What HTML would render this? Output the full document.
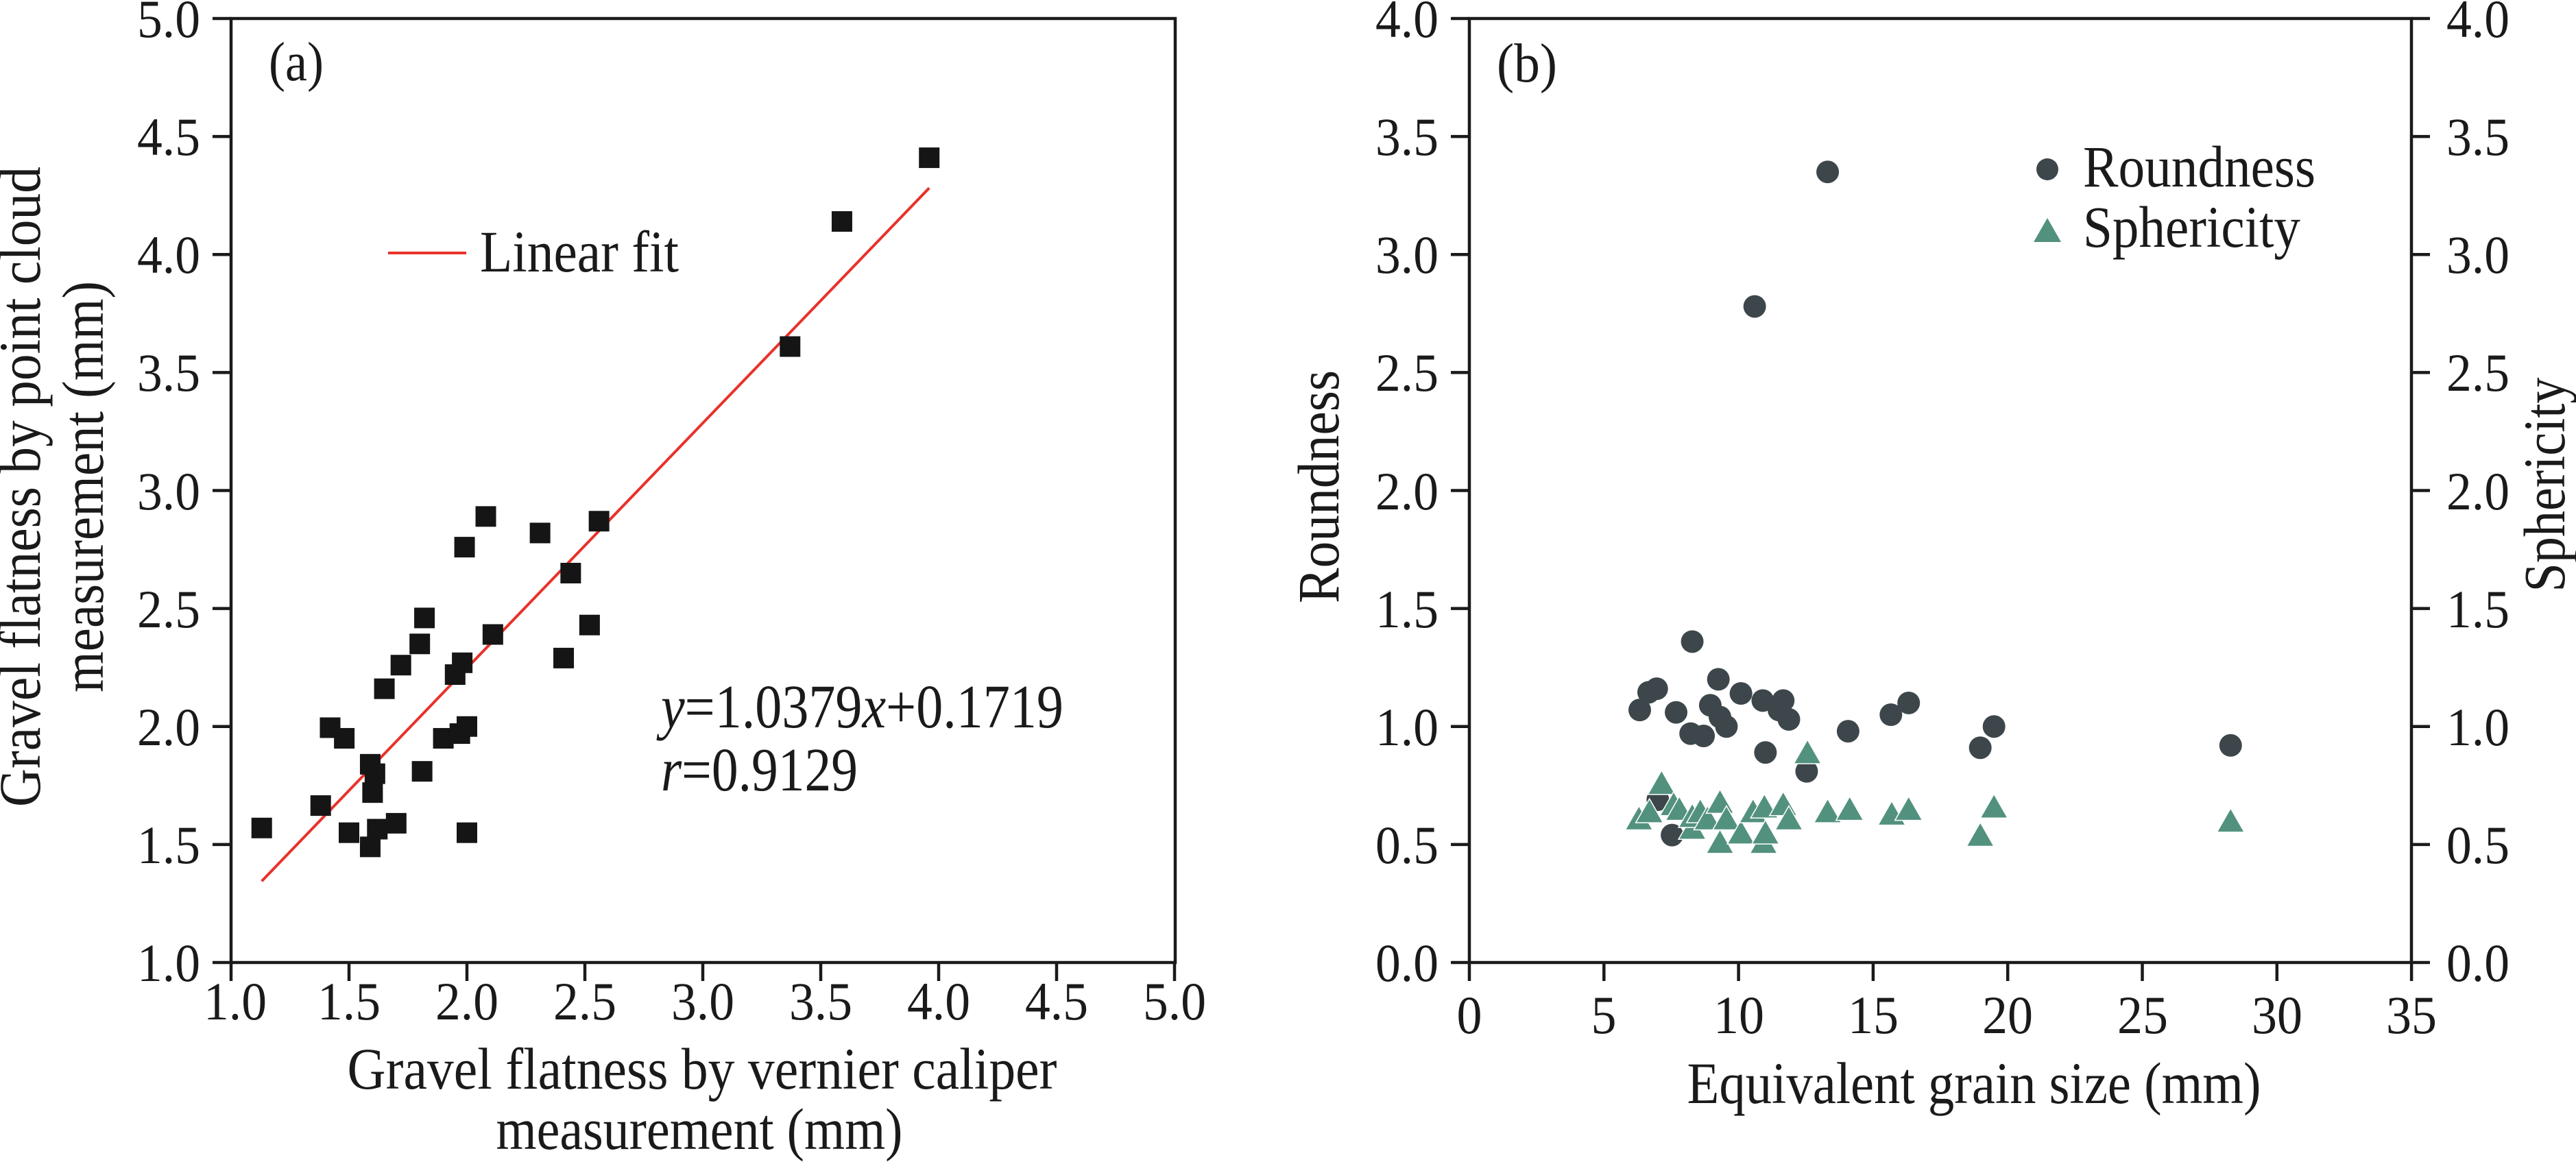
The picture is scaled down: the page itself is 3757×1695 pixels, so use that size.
<!DOCTYPE html>
<html><head><meta charset="utf-8"><style>
html,body{margin:0;padding:0;background:#fff}
svg{display:block}
text{font-family:"Liberation Serif","Times New Roman","Nimbus Roman","Nimbus Roman No9 L",Times,serif;fill:#1a1a1a}
</style></head><body>
<svg id="s" xmlns="http://www.w3.org/2000/svg" width="3757" height="1695" viewBox="0 0 3757 1695" font-family="Liberation Serif, Times New Roman, serif">
<g stroke="#1a1a1a" stroke-width="4.5" fill="none">
<rect x="337" y="27" width="1377" height="1377"/>
<rect x="2143" y="27" width="1374" height="1377"/>
</g>
<g id="ticks" stroke="#1a1a1a" stroke-width="4.5"></g>
<g font-size="78" id="tl">
<g text-anchor="end">
<text x="292" y="1431">1.0</text><text x="292" y="1259">1.5</text><text x="292" y="1087">2.0</text><text x="292" y="915">2.5</text><text x="292" y="743">3.0</text><text x="292" y="570">3.5</text><text x="292" y="398">4.0</text><text x="292" y="226">4.5</text><text x="292" y="54">5.0</text>
<text x="2098" y="1431">0.0</text><text x="2098" y="1259">0.5</text><text x="2098" y="1087">1.0</text><text x="2098" y="915">1.5</text><text x="2098" y="743">2.0</text><text x="2098" y="570">2.5</text><text x="2098" y="398">3.0</text><text x="2098" y="226">3.5</text><text x="2098" y="54">4.0</text>
</g>
<g text-anchor="start">
<text x="3568" y="1431">0.0</text><text x="3568" y="1259">0.5</text><text x="3568" y="1087">1.0</text><text x="3568" y="915">1.5</text><text x="3568" y="743">2.0</text><text x="3568" y="570">2.5</text><text x="3568" y="398">3.0</text><text x="3568" y="226">3.5</text><text x="3568" y="54">4.0</text>
</g>
<g text-anchor="middle">
<text x="343" y="1487">1.0</text><text x="509" y="1487">1.5</text><text x="681" y="1487">2.0</text><text x="853" y="1487">2.5</text><text x="1025" y="1487">3.0</text><text x="1197" y="1487">3.5</text><text x="1369" y="1487">4.0</text><text x="1541" y="1487">4.5</text><text x="1713" y="1487">5.0</text>
<text x="2143" y="1507">0</text><text x="2339" y="1507">5</text><text x="2536" y="1507">10</text><text x="2732" y="1507">15</text><text x="2928" y="1507">20</text><text x="3125" y="1507">25</text><text x="3321" y="1507">30</text><text x="3517" y="1507">35</text>
</g>
</g>
<text x="392" y="117" font-size="80" textLength="80" lengthAdjust="spacingAndGlyphs">(a)</text>
<text x="2183" y="119" font-size="80" textLength="88" lengthAdjust="spacingAndGlyphs">(b)</text>
<g font-size="86" text-anchor="middle" lengthAdjust="spacingAndGlyphs">
<text x="1024" y="1588" textLength="1035" lengthAdjust="spacingAndGlyphs">Gravel flatness by vernier caliper</text>
<text x="1020" y="1676" textLength="593" lengthAdjust="spacingAndGlyphs">measurement (mm)</text>
<text transform="translate(58,710) rotate(-90)" textLength="934" lengthAdjust="spacingAndGlyphs">Gravel flatness by point cloud</text>
<text transform="translate(150,710) rotate(-90)" textLength="600" lengthAdjust="spacingAndGlyphs">measurement (mm)</text>
<text x="2879" y="1609" textLength="837" lengthAdjust="spacingAndGlyphs">Equivalent grain size (mm)</text>
<text transform="translate(1952,710) rotate(-90)" textLength="340" lengthAdjust="spacingAndGlyphs">Roundness</text>
<text transform="translate(3740,707) rotate(-90)" textLength="313" lengthAdjust="spacingAndGlyphs">Sphericity</text>
</g>
<line x1="566" y1="369" x2="680" y2="369" stroke="#e8322a" stroke-width="4"/>
<text x="700" y="396" font-size="86" textLength="290" lengthAdjust="spacingAndGlyphs">Linear fit</text>
<text x="964" y="1061" font-size="90" textLength="587" lengthAdjust="spacingAndGlyphs"><tspan font-style="italic">y</tspan>=1.0379<tspan font-style="italic">x</tspan>+0.1719</text>
<text x="964" y="1153" font-size="90" textLength="287" lengthAdjust="spacingAndGlyphs"><tspan font-style="italic">r</tspan>=0.9129</text>
<circle cx="2986" cy="247" r="16" fill="#3d474b"/>
<text x="3038" y="272" font-size="86" textLength="339" lengthAdjust="spacingAndGlyphs">Roundness</text>
<polygon points="2986,318 3006,353 2966,353" fill="#53917f"/>
<text x="3038" y="360" font-size="86" textLength="317" lengthAdjust="spacingAndGlyphs">Sphericity</text>
<g id="pa"></g><g id="pb"></g>
</svg>
<script>
var NS="http://www.w3.org/2000/svg";
function el(p,n,a){var e=document.createElementNS(NS,n);for(var k in a)e.setAttribute(k,a[k]);p.appendChild(e);return e;}
Array.prototype.forEach.call(document.querySelectorAll('#tl text'),function(e){var n=e.textContent.length;e.setAttribute('textLength',n==3?92:n*37);e.setAttribute('lengthAdjust','spacingAndGlyphs');});
var t=document.getElementById('ticks');
function AX(v){return 337+(v-1)*344;}function AY(v){return 1404-(v-1)*344.25;}
function BX(v){return 2143+v*39.26;}function BY(v){return 1404-v*344.25;}
for(var i=0;i<9;i++){var v=1+i*0.5;
el(t,'line',{x1:AX(v),y1:1404,x2:AX(v),y2:1431});
el(t,'line',{x1:337,y1:AY(v),x2:310,y2:AY(v)});
var w=i*0.5;
el(t,'line',{x1:2143,y1:BY(w),x2:2116,y2:BY(w)});
el(t,'line',{x1:3517,y1:BY(w),x2:3544,y2:BY(w)});}
for(var i=0;i<8;i++)el(t,'line',{x1:BX(i*5),y1:1404,x2:BX(i*5),y2:1431});
var pa=document.getElementById('pa');
el(pa,'line',{x1:AX(1.13),y1:AY(1.0379*1.13+0.1719),x2:AX(3.96),y2:AY(1.0379*3.96+0.1719),stroke:'#e8322a','stroke-width':4});
var A=[[1.13,1.57],[1.38,1.665],[1.42,1.995],[1.48,1.95],[1.5,1.55],[1.59,1.84],[1.61,1.80],[1.60,1.72],[1.59,1.49],[1.62,1.565],[1.65,2.16],[1.70,1.59],[1.72,2.26],[1.80,2.35],[1.82,2.46],[1.81,1.81],[1.90,1.95],[1.95,2.22],[1.98,2.27],[1.97,1.97],[2.0,2.0],[1.99,2.76],[2.0,1.55],[2.08,2.89],[2.11,2.39],[2.31,2.82],[2.41,2.29],[2.44,2.65],[2.52,2.43],[2.56,2.87],[3.37,3.61],[3.59,4.14],[3.96,4.41]];
A.forEach(function(p){el(pa,'rect',{x:AX(p[0])-15,y:AY(p[1])-15,width:30,height:30,fill:'#151515'});});
var pb=document.getElementById('pb');
var R=[[6.33,1.07],[6.66,1.145],[6.96,1.16],[7.68,1.06],[8.28,1.36],[8.22,0.97],[8.70,0.96],[8.95,1.09],[9.25,1.20],[9.31,1.04],[9.55,1.00],[10.09,1.14],[10.9,1.11],[11.0,0.89],[11.66,1.11],[11.87,1.03],[11.5,1.07],[12.53,0.81],[14.07,0.98],[15.66,1.05],[16.32,1.10],[18.98,0.91],[19.49,1.0],[28.28,0.92],[10.6,2.78],[13.31,3.35],[7.53,0.54],[7.0,0.69]];
R.forEach(function(p){el(pb,'circle',{cx:BX(p[0]),cy:BY(p[1]),r:16.5,fill:'#3d474b'});});
var S=[[6.3,0.60],[6.69,0.63],[7.14,0.75],[7.59,0.66],[7.8,0.64],[8.28,0.56],[8.28,0.61],[8.58,0.63],[8.85,0.60],[9.31,0.67],[9.31,0.50],[9.55,0.60],[10.09,0.54],[10.54,0.63],[10.96,0.65],[10.93,0.50],[11.0,0.54],[11.66,0.66],[11.87,0.60],[12.56,0.88],[13.31,0.63],[14.13,0.64],[15.69,0.62],[16.32,0.64],[18.98,0.53],[19.49,0.65],[28.28,0.59]];
S.forEach(function(p){var x=BX(p[0]),y=BY(p[1]);el(pb,'polygon',{points:x+','+(y-22)+' '+(x+20)+','+(y+13)+' '+(x-20)+','+(y+13),fill:'#53917f',stroke:'#fff','stroke-width':1.5});});
</script>
</body></html>
